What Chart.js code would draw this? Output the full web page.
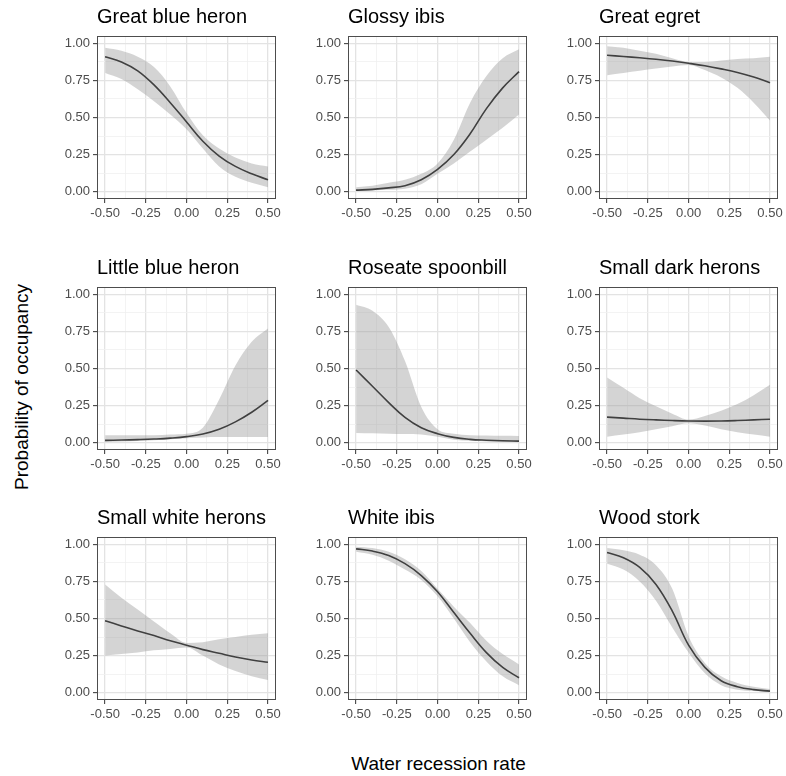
<!DOCTYPE html>
<html>
<head>
<meta charset="utf-8">
<script src="https://cdn.jsdelivr.net/npm/chart.js@4.4.1/dist/chart.umd.min.js"></script>
<style>
body { margin: 0; background: #fff; width: 786px; height: 776px; overflow: hidden; position: relative; font-family: "Liberation Sans", Arial, sans-serif; }
canvas { position: absolute; }
#xtitle { position: absolute; left: 97px; width: 683px; top: 753px; text-align: center; font-size: 19px; color: #000; }
#ytitle { position: absolute; left: 22px; top: 387px; font-size: 19px; color: #000; white-space: nowrap; transform: translate(-50%, -50%) rotate(-90deg); }
</style>
</head>
<body>
<div id="xtitle">Water recession rate</div>
<div id="ytitle">Probability of occupancy</div>
<script>
// recession rate values where the curves were read
var rate = [-0.5, -0.4, -0.3, -0.2, -0.1, 0, 0.1, 0.2, 0.3, 0.4, 0.5];
var xTicks = [-0.5, -0.375, -0.25, -0.125, 0, 0.125, 0.25, 0.375, 0.5];
var yTicks = [0, 0.125, 0.25, 0.375, 0.5, 0.625, 0.75, 0.875, 1];

var species = ["Great blue heron", "Glossy ibis", "Great egret",
               "Little blue heron", "Roseate spoonbill", "Small dark herons",
               "Small white herons", "White ibis", "Wood stork"];

var greatBlueHeron    = [0.91, 0.875, 0.815, 0.72, 0.60, 0.47, 0.34, 0.24, 0.17, 0.12, 0.08];
var greatBlueHeronLo  = [0.80, 0.76, 0.69, 0.61, 0.52, 0.42, 0.29, 0.17, 0.10, 0.06, 0.03];
var greatBlueHeronHi  = [0.97, 0.95, 0.91, 0.84, 0.71, 0.53, 0.38, 0.29, 0.23, 0.19, 0.17];

var glossyIbis        = [0.01, 0.015, 0.025, 0.04, 0.08, 0.15, 0.25, 0.39, 0.56, 0.70, 0.81];
var glossyIbisLo      = [0.005, 0.008, 0.012, 0.02, 0.05, 0.12, 0.19, 0.27, 0.35, 0.43, 0.52];
var glossyIbisHi      = [0.03, 0.04, 0.06, 0.08, 0.12, 0.19, 0.35, 0.60, 0.78, 0.90, 0.96];

var greatEgret        = [0.92, 0.912, 0.903, 0.893, 0.881, 0.866, 0.849, 0.828, 0.804, 0.773, 0.735];
var greatEgretLo      = [0.785, 0.80, 0.815, 0.83, 0.845, 0.855, 0.82, 0.77, 0.70, 0.60, 0.48];
var greatEgretHi      = [0.98, 0.97, 0.95, 0.93, 0.90, 0.875, 0.875, 0.885, 0.895, 0.90, 0.91];

var littleBlueHeron   = [0.015, 0.017, 0.02, 0.024, 0.03, 0.04, 0.058, 0.09, 0.14, 0.205, 0.285];
var littleBlueHeronLo = [0.005, 0.007, 0.01, 0.015, 0.022, 0.03, 0.035, 0.037, 0.038, 0.038, 0.038];
var littleBlueHeronHi = [0.05, 0.05, 0.05, 0.05, 0.055, 0.06, 0.10, 0.29, 0.52, 0.68, 0.77];

var roseateSpoonbill   = [0.49, 0.38, 0.27, 0.17, 0.10, 0.06, 0.035, 0.022, 0.016, 0.012, 0.01];
var roseateSpoonbillLo = [0.065, 0.063, 0.06, 0.058, 0.055, 0.04, 0.02, 0.012, 0.008, 0.006, 0.004];
var roseateSpoonbillHi = [0.93, 0.89, 0.78, 0.55, 0.24, 0.09, 0.06, 0.05, 0.048, 0.046, 0.045];

var smallDarkHerons   = [0.172, 0.165, 0.158, 0.153, 0.149, 0.146, 0.145, 0.146, 0.149, 0.153, 0.158];
var smallDarkHeronsLo = [0.04, 0.055, 0.07, 0.09, 0.11, 0.13, 0.115, 0.09, 0.07, 0.055, 0.04];
var smallDarkHeronsHi = [0.44, 0.37, 0.30, 0.245, 0.195, 0.155, 0.18, 0.215, 0.26, 0.32, 0.39];

var smallWhiteHerons   = [0.485, 0.45, 0.415, 0.385, 0.35, 0.32, 0.29, 0.265, 0.24, 0.22, 0.205];
var smallWhiteHeronsLo = [0.25, 0.26, 0.27, 0.285, 0.295, 0.305, 0.25, 0.19, 0.145, 0.11, 0.085];
var smallWhiteHeronsHi = [0.73, 0.64, 0.56, 0.48, 0.40, 0.335, 0.34, 0.36, 0.375, 0.39, 0.40];

var whiteIbis         = [0.97, 0.955, 0.925, 0.87, 0.79, 0.68, 0.54, 0.40, 0.27, 0.17, 0.10];
var whiteIbisLo       = [0.95, 0.93, 0.89, 0.83, 0.76, 0.65, 0.50, 0.34, 0.21, 0.11, 0.05];
var whiteIbisHi       = [0.985, 0.975, 0.95, 0.90, 0.82, 0.70, 0.58, 0.47, 0.35, 0.26, 0.19];

var woodStork         = [0.945, 0.91, 0.845, 0.73, 0.55, 0.32, 0.17, 0.08, 0.04, 0.02, 0.01];
var woodStorkLo       = [0.87, 0.83, 0.75, 0.62, 0.44, 0.27, 0.13, 0.05, 0.02, 0.01, 0.004];
var woodStorkHi       = [0.975, 0.96, 0.93, 0.86, 0.70, 0.38, 0.20, 0.11, 0.065, 0.04, 0.025];

var fits = [greatBlueHeron, glossyIbis, greatEgret, littleBlueHeron, roseateSpoonbill,
            smallDarkHerons, smallWhiteHerons, whiteIbis, woodStork];
var lows = [greatBlueHeronLo, glossyIbisLo, greatEgretLo, littleBlueHeronLo, roseateSpoonbillLo,
            smallDarkHeronsLo, smallWhiteHeronsLo, whiteIbisLo, woodStorkLo];
var highs = [greatBlueHeronHi, glossyIbisHi, greatEgretHi, littleBlueHeronHi, roseateSpoonbillHi,
             smallDarkHeronsHi, smallWhiteHeronsHi, whiteIbisHi, woodStorkHi];

var panelLeft = [97, 348, 599];
var panelTop = [36, 287, 537];
var panelW = 180;
var yAxisW = 55;
var titleH = 36;
var xAxisH = 27;
var rightPad = 7;

var font = "'Liberation Sans', Arial, sans-serif";

function isMajor(v){
    return Math.abs(v * 4 - Math.round(v * 4)) < 1e-6;
}

function points(ys){
    return rate.map(function(x, i){ return {x: x, y: ys[i]}; });
}

var panelBorder = {
    id: "panelBorder",
    afterDatasetsDraw: function(chart){
        var a = chart.chartArea;
        var ctx = chart.ctx;
        ctx.save();
        ctx.strokeStyle = "#4d4d4d";
        ctx.lineWidth = 1;
        ctx.strokeRect(Math.round(a.left) + 0.5, Math.round(a.top) + 0.5,
                       Math.round(a.right - a.left) - 1, Math.round(a.bottom - a.top) - 1);
        ctx.restore();
    }
};

function gridOpts(){
    return {
        color: function(c){ return isMajor(c.tick.value) ? "#e3e3e3" : "#f0f0f0"; },
        lineWidth: function(c){ return isMajor(c.tick.value) ? 1.3 : 0.8; },
        tickColor: function(c){ return isMajor(c.tick.value) ? "#333333" : "rgba(0,0,0,0)"; },
        tickWidth: 1,
        tickLength: 4,
        drawTicks: true
    };
}

function tickOpts(){
    return {
        autoSkip: false,
        maxRotation: 0,
        padding: 3,
        color: "#4d4d4d",
        font: {family: font, size: 13},
        callback: function(v){ return isMajor(v) ? v.toFixed(2) : ""; }
    };
}

function drawPanel(i){
    var col = i % 3;
    var row = Math.floor(i / 3);
    var cv = document.createElement("canvas");
    var w = yAxisW + panelW + rightPad;
    var h = titleH + 163 + xAxisH;
    cv.width = w;
    cv.height = h;
    cv.style.left = (panelLeft[col] - yAxisW) + "px";
    cv.style.top = (panelTop[row] - titleH) + "px";
    document.body.appendChild(cv);

    new Chart(cv.getContext("2d"), {
        type: "line",
        data: {
            datasets: [
                {
                    data: points(lows[i]),
                    borderWidth: 0,
                    borderColor: "rgba(0,0,0,0)",
                    pointRadius: 0,
                    cubicInterpolationMode: "monotone",
                    fill: false
                },
                {
                    data: points(highs[i]),
                    borderWidth: 0,
                    borderColor: "rgba(0,0,0,0)",
                    backgroundColor: "rgba(153,153,153,0.42)",
                    pointRadius: 0,
                    cubicInterpolationMode: "monotone",
                    fill: "-1"
                },
                {
                    data: points(fits[i]),
                    borderWidth: 1.6,
                    borderColor: "#000000",
                    pointRadius: 0,
                    tension: 0.4,
                    fill: false
                }
            ]
        },
        options: {
            animation: false,
            responsive: false,
            devicePixelRatio: 1,
            events: [],
            layout: { padding: { left: 0, right: rightPad, top: 0, bottom: 0 } },
            plugins: {
                legend: { display: false },
                tooltip: { enabled: false },
                title: {
                    display: true,
                    text: species[i],
                    align: "start",
                    fullSize: false,
                    color: "#000000",
                    font: { family: font, size: 20, weight: "normal", lineHeight: 1.2 },
                    padding: { top: 5, bottom: 7 }
                }
            },
            scales: {
                x: {
                    type: "linear",
                    min: -0.55,
                    max: 0.55,
                    grid: gridOpts(),
                    border: { display: false },
                    ticks: tickOpts(),
                    afterBuildTicks: function(s){ s.ticks = xTicks.map(function(v){ return {value: v}; }); },
                    afterFit: function(s){ s.height = xAxisH; }
                },
                y: {
                    type: "linear",
                    min: -0.05,
                    max: 1.05,
                    grid: gridOpts(),
                    border: { display: false },
                    ticks: tickOpts(),
                    afterBuildTicks: function(s){ s.ticks = yTicks.map(function(v){ return {value: v}; }); },
                    afterFit: function(s){ s.width = yAxisW; }
                }
            }
        },
        plugins: [panelBorder]
    });
}

for (var i = 0; i < species.length; i++) {
    drawPanel(i);
}
</script>
</body>
</html>
